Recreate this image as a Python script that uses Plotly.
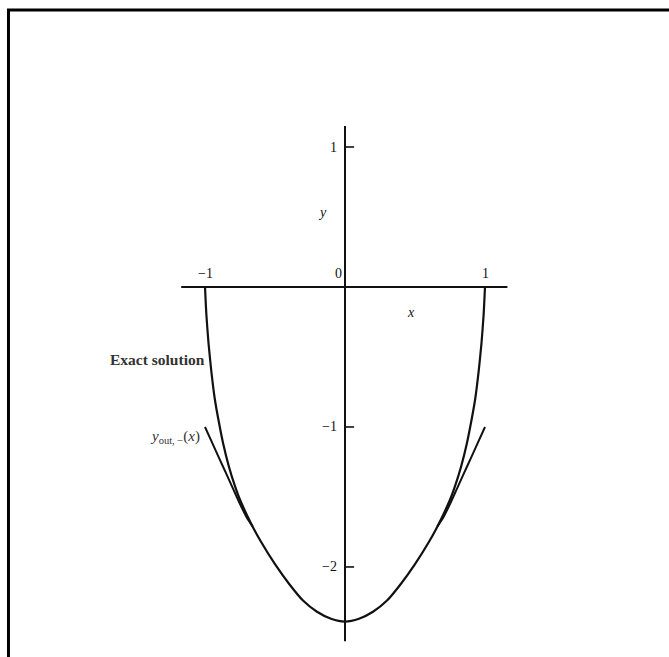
import plotly.graph_objects as go

# Exact solution (read at sample points, symmetric about x = 0)
exact_x_half = [-1.0, -0.99, -0.975, -0.955, -0.93, -0.9, -0.87, -0.83, -0.79, -0.75,
                -0.7, -0.65, -0.6, -0.5, -0.4, -0.3, -0.2, -0.1, 0.0]
exact_y_half = [0.0, -0.2, -0.4, -0.6, -0.8, -0.97, -1.12, -1.28, -1.41, -1.52,
                -1.63, -1.73, -1.82, -1.98, -2.12, -2.24, -2.32, -2.37, -2.39]

# Outer solution branches near the boundaries
outer_x_half = [-1.0, -0.95, -0.9, -0.85, -0.8, -0.75, -0.7, -0.66]
outer_y_half = [-1.0, -1.11, -1.22, -1.33, -1.44, -1.55, -1.65, -1.71]

# Axis tick labels
x_ticks = [-1, 0, 1]
x_tick_text = ["\u22121", "0", "1"]
y_ticks = [1, -1, -2]
y_tick_text = ["1", "\u22121", "\u22122"]

exact_x = exact_x_half + [-v for v in reversed(exact_x_half[:-1])]
exact_y = exact_y_half + list(reversed(exact_y_half[:-1]))
outer_x = outer_x_half + [None] + [-v for v in reversed(outer_x_half)]
outer_y = outer_y_half + [None] + list(reversed(outer_y_half))

SERIF = "Liberation Serif"
INK = "#111111"

fig = go.Figure()
fig.add_trace(go.Scatter(x=exact_x, y=exact_y, mode="lines",
                         line=dict(color=INK, width=2.2, shape="spline", smoothing=0.6),
                         hoverinfo="skip", showlegend=False))
fig.add_trace(go.Scatter(x=outer_x, y=outer_y, mode="lines",
                         line=dict(color=INK, width=2, shape="spline", smoothing=0.6),
                         hoverinfo="skip", showlegend=False, connectgaps=False))

shapes = [
    # coordinate axes
    dict(type="line", xref="x", yref="y", x0=-1.17, x1=1.16, y0=0, y1=0,
         line=dict(color=INK, width=2)),
    dict(type="line", xref="x", yref="y", x0=0, x1=0, y0=1.15, y1=-2.53,
         line=dict(color=INK, width=2)),
    # outer frame
    dict(type="rect", xref="paper", yref="paper", x0=-0.4245, x1=1.6, y0=-0.2, y1=0.9848,
         line=dict(color="black", width=3), fillcolor="rgba(0,0,0,0)"),
]
for yv in y_ticks:
    shapes.append(dict(type="line", xref="x", yref="y", x0=0, x1=0.065, y0=yv, y1=yv,
                       line=dict(color=INK, width=1.6)))
fig.update_layout(shapes=shapes)

annotations = []
for xv, txt in zip(x_ticks, x_tick_text):
    annotations.append(dict(x=xv - (0.05 if xv == 0 else 0), y=0.03, xref="x", yref="y",
                            text=txt, showarrow=False, yanchor="bottom",
                            font=dict(family=SERIF, size=14, color=INK)))
for yv, txt in zip(y_ticks, y_tick_text):
    annotations.append(dict(x=-0.04, y=yv, xref="x", yref="y", text=txt,
                            showarrow=False, xanchor="right",
                            font=dict(family=SERIF, size=14, color=INK)))
annotations += [
    dict(x=-0.16, y=0.53, xref="x", yref="y", text="<i>y</i>", showarrow=False,
         font=dict(family=SERIF, size=14, color=INK)),
    dict(x=0.47, y=-0.18, xref="x", yref="y", text="<i>x</i>", showarrow=False,
         font=dict(family=SERIF, size=14, color=INK)),
    dict(x=-0.985, y=-0.52, xref="x", yref="y", text="<b>Exact solution</b>",
         showarrow=False, xanchor="right",
         font=dict(family=SERIF, size=15.5, color="#333333")),
    dict(x=-1.025, y=-1.07, xref="x", yref="y",
         text="<i>y</i><sub>out, \u2212</sub>(<i>x</i>)", showarrow=False,
         xanchor="right", font=dict(family=SERIF, size=15, color="#333333")),
]
fig.update_layout(annotations=annotations)

fig.update_xaxes(range=[-1.3, 1.3], visible=False, fixedrange=True)
fig.update_yaxes(range=[-2.643, 2.05], visible=False, fixedrange=True)
fig.update_layout(width=669, height=657, autosize=False,
                  margin=dict(l=163, r=142, t=0, b=0),
                  paper_bgcolor="white", plot_bgcolor="white")

fig.write_html("out.html")
